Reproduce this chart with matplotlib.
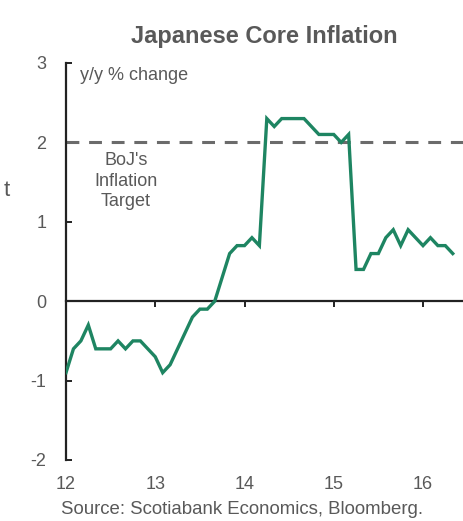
import matplotlib
matplotlib.use("Agg")
import matplotlib.pyplot as plt
import numpy as np

plt.rcParams['font.family'] = ['Liberation Sans', 'DejaVu Sans']

# Monthly core CPI, y/y % change, Jan 2012 - May 2016
core_inflation = [
    -0.9, -0.6, -0.5, -0.3, -0.6, -0.6, -0.6, -0.5, -0.6, -0.5, -0.5, -0.6,   # 2012
    -0.7, -0.9, -0.8, -0.6, -0.4, -0.2, -0.1, -0.1, 0.0, 0.3, 0.6, 0.7,       # 2013
    0.7, 0.8, 0.7, 2.3, 2.2, 2.3, 2.3, 2.3, 2.3, 2.2, 2.1, 2.1,               # 2014
    2.1, 2.0, 2.1, 0.4, 0.4, 0.6, 0.6, 0.8, 0.9, 0.7, 0.9, 0.8,               # 2015
    0.7, 0.8, 0.7, 0.7, 0.6,                                                   # 2016
]
start_year = 12
boj_target = 2.0
x_ticks = [12, 13, 14, 15, 16]
x_tick_labels = ["12", "13", "14", "15", "16"]
y_ticks = [-2, -1, 0, 1, 2, 3]

months = np.arange(len(core_inflation))
x = start_year + months / 12.0

grey = "#595959"
green = "#1e8562"

fig = plt.figure(figsize=(4.64, 5.21), dpi=100)
ax = fig.add_axes([66 / 464, 1 - 460 / 521, 398 / 464, (460 - 63) / 521])

ax.plot(x, core_inflation, color=green, lw=2.4, solid_joinstyle="miter", zorder=3)
ax.axhline(boj_target, color="#6b6b6b", lw=2.2, dashes=(4.2, 3.2), zorder=2)

ax.set_xlim(12, 12 + 398 / 89.25)
ax.set_ylim(-2, 3)

for side in ("top", "right", "bottom"):
    ax.spines[side].set_visible(False)
ax.spines["left"].set_color("#222222")
ax.spines["left"].set_linewidth(1.6)

ax.set_yticks(y_ticks)
ax.set_yticklabels([str(v) for v in y_ticks])
ax.tick_params(axis="y", direction="in", length=4, width=1.4, color="#222222",
               labelsize=13, labelcolor=grey, pad=14)

ax.set_xticks(x_ticks)
ax.set_xticklabels(x_tick_labels)
ax.tick_params(axis="x", length=0, labelsize=13, labelcolor=grey, pad=11.5)

# Zero line carrying the year tick marks
zero_axis = ax.secondary_xaxis(0.4)
zero_axis.set_xticks(x_ticks)
zero_axis.set_xticklabels([])
zero_axis.spines["bottom"].set_color("#222222")
zero_axis.spines["bottom"].set_linewidth(1.6)
zero_axis.tick_params(direction="out", length=4, width=1.4, color="#222222")

fig.text(264 / 464, 1 - 36 / 521, "Japanese Core Inflation", ha="center", va="center",
         fontsize=17, fontweight="bold", color=grey)
fig.text(80 / 464, 1 - 76 / 521, "y/y % change", ha="left", va="center",
         fontsize=13, color=grey)
fig.text(126 / 464, 1 - 181 / 521, "BoJ's\nInflation\nTarget", ha="center", va="center",
         fontsize=13, color=grey, linespacing=1.25)
fig.text(242 / 464, 1 - 510 / 521, "Source: Scotiabank Economics, Bloomberg.", ha="center",
         va="center", fontsize=13.4, color=grey)
fig.text(7 / 464, 1 - 190 / 521, "t", ha="center", va="center", fontsize=16, color=grey)

fig.savefig("out.png", dpi=100)
